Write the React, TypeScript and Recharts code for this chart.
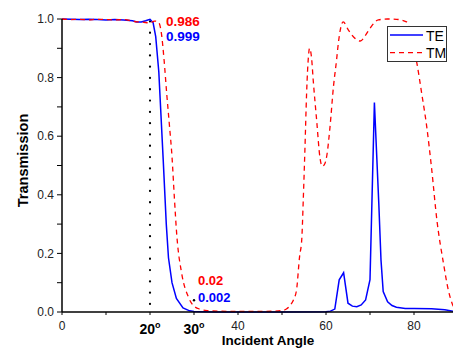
import React from 'react';
import { LineChart, Line, XAxis, YAxis, ReferenceLine, ReferenceDot } from 'recharts';

const teAngles = [0, 2, 4, 6, 8, 10, 12, 14, 16, 17, 18, 19, 20, 20.7, 21.3, 22, 23, 23.7, 24.2, 25, 26, 27.5, 29, 30, 32, 35, 40, 50, 60, 61, 62, 63, 64, 65, 66, 67, 68, 69, 70, 71, 72, 72.5, 73, 74, 75, 76, 78, 80, 84, 87, 89, 90];
const teValues = [1.0, 0.999, 0.998, 0.999, 0.998, 0.997, 0.998, 0.997, 0.994, 0.99, 0.99, 0.994, 0.999, 0.988, 0.94, 0.82, 0.52, 0.3, 0.185, 0.1, 0.046, 0.014, 0.004, 0.002, 0.001, 0, 0, 0, 0.001, 0.003, 0.01, 0.11, 0.134, 0.03, 0.02, 0.018, 0.024, 0.041, 0.11, 0.715, 0.37, 0.177, 0.07, 0.035, 0.022, 0.016, 0.012, 0.012, 0.011, 0.008, 0.002, 0.0];

const tmAngles = [0, 2, 4, 6, 8, 10, 12, 14, 16, 17, 18, 19, 20, 21, 21.9, 22.6, 23.2, 23.8, 24.4, 25, 25.5, 26.1, 27.2, 28.7, 30, 31.5, 33, 36, 40, 45, 48, 50, 51, 52, 52.6, 53.3, 54, 54.5, 54.85, 55.2, 55.6, 56, 56.25, 56.7, 57.1, 57.9, 58.6, 59.15, 59.7, 60.2, 60.9, 61.7, 62.4, 62.8, 63.9, 65.1, 66.5, 67.8, 69, 70, 71.9, 74, 76, 78.3, 79.5, 80.6, 81.75, 82.9, 84, 85.2, 86.7, 87.8, 88.8, 90];
const tmValues = [1.0, 0.998, 0.999, 0.997, 0.999, 0.998, 0.997, 0.998, 0.993, 0.99, 0.99, 0.988, 0.986, 0.993, 0.99, 0.95, 0.86, 0.745, 0.64, 0.53, 0.4, 0.26, 0.132, 0.052, 0.02, 0.009, 0.005, 0.003, 0.002, 0.002, 0.003, 0.005, 0.01, 0.025, 0.041, 0.075, 0.19, 0.25, 0.39, 0.55, 0.75, 0.87, 0.9, 0.87, 0.79, 0.65, 0.53, 0.497, 0.505, 0.535, 0.63, 0.77, 0.86, 0.917, 0.99, 0.962, 0.935, 0.925, 0.945, 0.968, 0.997, 1.0, 0.999, 0.99, 0.93, 0.854, 0.746, 0.632, 0.49, 0.314, 0.166, 0.075, 0.024, 0.0];

const xTicks = [0, 10, 20, 30, 40, 50, 60, 70, 80, 90];
const xPlainLabels = [0, 40, 60, 80];
const xDegreeLabels = [20, 30];
const yTicks = [0, 0.1, 0.2, 0.3, 0.4, 0.5, 0.6, 0.7, 0.8, 0.9, 1.0];
const yMajorLabels = [0, 0.2, 0.4, 0.6, 0.8, 1.0];

const teEdge = { angle: 20, value: 0.999, label: '0.999' };
const tmEdge = { angle: 20, value: 0.986, label: '0.986' };
const teLow = { angle: 30, value: 0.002, label: '0.002' };
const tmLow = { angle: 30, value: 0.02, label: '0.02' };

const teData = teAngles.map((a, i) => ({ angle: a, value: teValues[i] }));
const tmData = tmAngles.map((a, i) => ({ angle: a, value: tmValues[i] }));

const FONT = '"Liberation Sans", Arial, sans-serif';

const XTick = (props: any) => {
  const { x, y, payload } = props;
  const v = payload.value;
  if (xDegreeLabels.includes(v)) {
    return (
      <text x={x} y={y + 17} textAnchor="middle" fontFamily={FONT} fontWeight="bold" fontSize={14} fill="#000">
        {v}
        <tspan fontSize={9} dy={-6}>o</tspan>
      </text>
    );
  }
  if (xPlainLabels.includes(v)) {
    return (
      <text x={x} y={y + 12.5} textAnchor="middle" fontFamily={FONT} fontSize={12} fill="#222">
        {v}
      </text>
    );
  }
  return <g />;
};

const YTick = (props: any) => {
  const { x, y, payload } = props;
  const v = payload.value;
  if (yMajorLabels.some((m) => Math.abs(m - v) < 1e-6)) {
    return (
      <text x={x - 1} y={y} dy="0.35em" textAnchor="end" fontFamily={FONT} fontSize={12} fill="#222">
        {v.toFixed(1)}
      </text>
    );
  }
  return <g />;
};

const annot = (label: string, color: string, dx: number, dy: number, size: number) => (p: any) => (
  <text x={p.cx + dx} y={p.cy + dy} fill={color} fontFamily={FONT} fontWeight="bold" fontSize={size}>
    {label}
  </text>
);

export default function App() {
  return (
    <div style={{ position: 'absolute', left: 0, top: 0, width: 453, height: 352, overflow: 'hidden', background: '#fff' }}>
      <LineChart width={470} height={352} margin={{ top: 19, right: 12, bottom: 10, left: 2 }}>
        <XAxis
          dataKey="angle"
          type="number"
          domain={[0, 90]}
          ticks={xTicks}
          interval={0}
          tick={<XTick />}
          tickSize={3}
          height={30}
          axisLine={{ stroke: '#000', strokeWidth: 1.5 }}
          tickLine={{ stroke: '#000' }}
          allowDataOverflow
        />
        <YAxis
          type="number"
          domain={[0, 1]}
          ticks={yTicks}
          interval={0}
          tick={<YTick />}
          tickSize={5}
          width={60}
          axisLine={{ stroke: '#000', strokeWidth: 1.5 }}
          tickLine={{ stroke: '#000' }}
        />
        <ReferenceLine x={20} stroke="#000" strokeWidth={2.2} strokeDasharray="0.1 11.2" strokeDashoffset={3.3} strokeLinecap="round" />
        <Line data={teData} dataKey="value" type="linear" stroke="#0000ff" strokeWidth={1.5} dot={false} isAnimationActive={false} />
        <Line data={tmData} dataKey="value" type="monotone" stroke="#ff0000" strokeWidth={1.3} strokeDasharray="5 4" dot={false} isAnimationActive={false} />
        <ReferenceDot x={30} y={0.04} r={1.2} fill="#000" stroke="none" />
        <ReferenceDot x={tmEdge.angle} y={tmEdge.value} r={0} ifOverflow="visible" shape={annot(tmEdge.label, '#ff0000', 16, 2.4, 13.5)} />
        <ReferenceDot x={teEdge.angle} y={teEdge.value} r={0} ifOverflow="visible" shape={annot(teEdge.label, '#0000ff', 16, 22, 13.5)} />
        <ReferenceDot x={tmLow.angle} y={tmLow.value} r={0} ifOverflow="visible" shape={annot(tmLow.label, '#ff0000', 4, -21, 13)} />
        <ReferenceDot x={teLow.angle} y={teLow.value} r={0} ifOverflow="visible" shape={annot(teLow.label, '#0000ff', 4, -9.5, 13)} />
      </LineChart>
      <svg width={453} height={352} style={{ position: 'absolute', left: 0, top: 0, pointerEvents: 'none' }}>
        <text x={268} y={345} textAnchor="middle" fontFamily={FONT} fontWeight="bold" fontSize={13.5} fill="#000">
          Incident Angle
        </text>
        <text
          x={28}
          y={160.5}
          transform="rotate(-90 28 160.5)"
          textAnchor="middle"
          fontFamily={FONT}
          fontWeight="bold"
          fontSize={14.5}
          fill="#000"
        >
          Transmission
        </text>
        <rect x={387.5} y={26.5} width={59} height={35} fill="#fff" stroke="#333" strokeWidth={1} />
        <line x1={390} y1={35} x2={423} y2={35} stroke="#0000ff" strokeWidth={1.5} />
        <text x={426} y={40.5} fontFamily={FONT} fontSize={14} fill="#000">TE</text>
        <line x1={390} y1={52.7} x2={423} y2={52.7} stroke="#ff0000" strokeWidth={1.3} strokeDasharray="5 4" />
        <text x={426} y={58.3} fontFamily={FONT} fontSize={14} fill="#000">TM</text>
      </svg>
    </div>
  );
}
